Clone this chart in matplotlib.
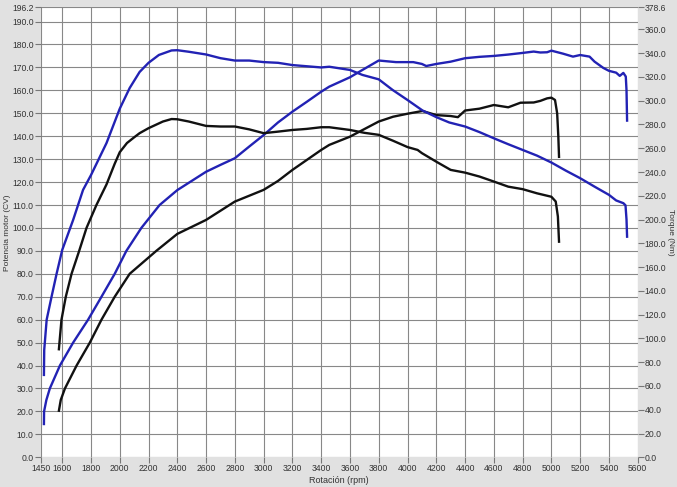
import numpy as np
import matplotlib.pyplot as plt

plt.rcParams['font.family'] = ['Liberation Sans', 'DejaVu Sans']

# blue run: power (CV) and torque (Nm)
blue_pow_rpm = [1473, 1474, 1490, 1514, 1584, 1676, 1780, 1873, 1965, 2046, 2150, 2277,
                2400, 2500, 2600, 2700, 2800, 2900, 3000, 3100, 3200, 3300, 3400, 3456,
                3600, 3687, 3800, 3920, 4040, 4100, 4130, 4200, 4300, 4400, 4500, 4600,
                4700, 4785, 4877, 4923, 4970, 5000, 5080, 5150, 5200, 5265, 5300, 5360,
                5400, 5450, 5475, 5500, 5517, 5522, 5526]
blue_pow = [14.5, 20, 25, 30, 40, 50, 60, 70, 80, 90, 100, 110,
            116.5, 120.5, 124.5, 127.5, 130.4, 135.5, 140.5, 146, 150.7, 155, 159.4, 161.6,
            165.7, 168.9, 173, 172.3, 172.3, 171.5, 170.6, 171.5, 172.5, 174, 174.6, 175,
            175.6, 176.2, 176.9, 176.5, 176.6, 177.3, 176, 174.7, 175.4, 174.7, 172.5, 169.8,
            168.5, 167.7, 166.3, 167.6, 166, 160, 146.8]

blue_trq_rpm = [1473, 1475, 1492, 1526, 1561, 1600, 1676, 1745, 1800, 1908, 2000, 2069,
                2138, 2200, 2272, 2360, 2400, 2480, 2600, 2700, 2800, 2900, 3000, 3100,
                3200, 3300, 3400, 3456, 3600, 3687, 3800, 3896, 4000, 4104, 4200, 4290,
                4400, 4500, 4600, 4700, 4800, 4900, 5000, 5100, 5200, 5300, 5400, 5450,
                5500, 5515, 5522, 5526]
blue_trq = [69.3, 90.3, 115.8, 135.1, 154.4, 174.4, 199.7, 225, 237.4, 264.4, 293.3, 310.7,
            324.2, 331.9, 338.5, 342.3, 342.5, 341.2, 338.9, 335.8, 333.8, 333.8, 332.5, 331.9,
            330, 329, 328, 328.6, 325.9, 321.7, 318, 309.1, 300.6, 291.8, 286.2, 281.7,
            278.3, 273.6, 268.4, 263.4, 258.6, 253.8, 248, 241.2, 234.8, 227.7, 220.8, 216.1,
            213.8, 212, 200, 185.6]

# black run
black_pow_rpm = [1577, 1590, 1619, 1700, 1792, 1873, 1965, 2069, 2254, 2400, 2600, 2800,
                 3000, 3100, 3200, 3400, 3456, 3600, 3800, 3900, 4000, 4104, 4200, 4300,
                 4350, 4400, 4500, 4600, 4700, 4785, 4877, 4923, 4970, 5000, 5025, 5040,
                 5048, 5053]
black_pow = [20.3, 25, 30, 40, 50, 60, 70, 80, 90, 97.4, 103.5, 111.5,
             116.6, 120.5, 125.3, 134, 136.2, 139.8, 146.4, 148.5, 149.8, 151, 149.2, 148.8,
             148.3, 151.2, 152, 153.6, 152.6, 154.6, 154.7, 155.4, 156.5, 156.8, 155.8, 150,
             140, 131]

black_trq_rpm = [1577, 1595, 1625, 1665, 1718, 1769, 1838, 1908, 1965, 2000, 2050, 2100,
                 2138, 2200, 2300, 2360, 2400, 2480, 2600, 2700, 2800, 2900, 3000, 3100,
                 3200, 3300, 3400, 3456, 3600, 3700, 3800, 3900, 4000, 4070, 4100, 4200,
                 4300, 4400, 4500, 4600, 4700, 4800, 4900, 5000, 5030, 5045, 5053]
black_trq = [90.9, 115.8, 135.1, 154.4, 173.7, 193, 212.3, 229.6, 247, 256.7, 264.4, 269.2,
             272.7, 276.9, 282.5, 284.6, 284.4, 282.5, 278.8, 278.3, 278.3, 275.9, 272.7, 274,
             275.4, 276.3, 277.7, 277.7, 275.4, 273, 271.3, 266.3, 261, 258.6, 255.9, 248.7,
             241.8, 239.5, 236.2, 232, 227.7, 225.6, 222.1, 219.2, 215.2, 202.6, 181.4]

x_ticks = [1450] + list(range(1600, 5601, 200))
left_ticks = list(np.arange(0, 191, 10)) + [196.2]
right_ticks = list(range(0, 361, 20)) + [378.6]

BLUE = '#2222b4'
BLACK = '#111111'
txt = '#333333'

fig = plt.figure(figsize=(6.77, 4.87), dpi=100, facecolor='#e1e1e1')
ax = fig.add_axes([0.060, 0.061, 0.882, 0.924])
ax.set_facecolor('white')
ax2 = ax.twinx()

ax.set_xlim(1450, 5600)
ax.set_ylim(0, 196.2)
ax2.set_ylim(0, 378.6)

ax.set_xticks(x_ticks)
ax.set_xticklabels([str(t) for t in x_ticks])
ax.set_yticks(left_ticks)
ax.set_yticklabels([f'{t:.1f}' for t in left_ticks])
ax2.set_yticks(right_ticks)
ax2.set_yticklabels([f'{t:.1f}' for t in right_ticks])

ax.grid(True, color='#888888', linewidth=0.8)
ax.set_axisbelow(True)
for a in (ax, ax2):
    for s in a.spines.values():
        s.set_visible(False)
    a.tick_params(labelsize=6.2, colors='#777777', labelcolor=txt, length=4, width=0.8, pad=1)

ax.plot(blue_pow_rpm, blue_pow, color=BLUE, lw=1.7)
ax.plot(black_pow_rpm, black_pow, color=BLACK, lw=1.7)
ax2.plot(blue_trq_rpm, blue_trq, color=BLUE, lw=1.7)
ax2.plot(black_trq_rpm, black_trq, color=BLACK, lw=1.7)

ax.set_xlabel('Rotación (rpm)', fontsize=6.5, color=txt, labelpad=2)
ax.set_ylabel('Potencia motor (CV)', fontsize=6, color=txt, va='center')
ax.yaxis.set_label_coords(-0.056, 0.5)
ax2.set_ylabel('Torque (Nm)', fontsize=6, color=txt, rotation=270, va='center')
ax2.yaxis.set_label_coords(1.055, 0.5)

fig.savefig('out.png', dpi=100, facecolor=fig.get_facecolor())
